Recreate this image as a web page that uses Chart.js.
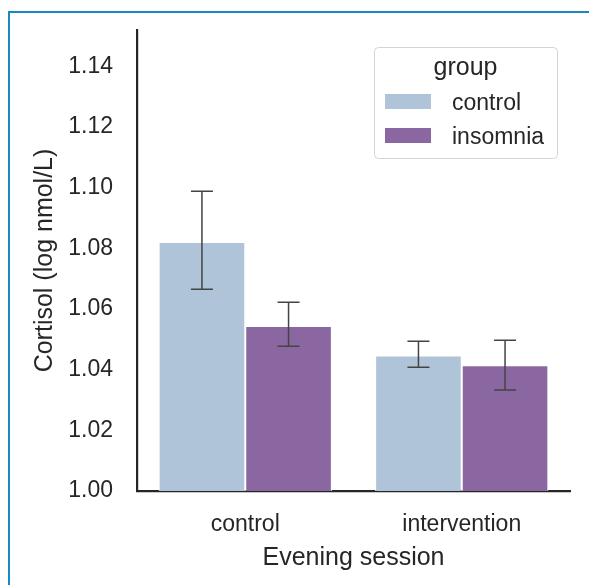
<!DOCTYPE html>
<html>
<head>
<meta charset="utf-8">
<script src="https://cdn.jsdelivr.net/npm/chart.js@4.4.0/dist/chart.umd.min.js"></script>
<style>
    html, body { margin: 0; padding: 0; background: #fff; overflow: hidden; }
    #frame { position: absolute; left: 8px; top: 11px; width: 640px; height: 640px; border: 2px solid #1a86c4; }
    #wrap { position: absolute; left: 0; top: 0; width: 589px; height: 585px; }
</style>
</head>
<body>
<div id="frame"></div>
<div id="wrap"><canvas id="chBar"></canvas></div>
<script>
/* Data */
const sessions = ['control', 'intervention'];
const groups = ['control', 'insomnia'];
const controlMeans = [1.0821, 1.0447];
const insomniaMeans = [1.0544, 1.0415];
// 95% CI bounds
const controlLow = [1.0665, 1.0408];
const controlHigh = [1.0988, 1.0494];
const insomniaLow = [1.0477, 1.0333];
const insomniaHigh = [1.0622, 1.0497];

const fontFamily = "'Liberation Sans', Arial, sans-serif";
const textColor = '#262626';
// colors are: light blue, purple
const groupColors = ['#afc4d9', '#8a67a0'];

/* Plugins */
const errorBarPlugin = {
    id: 'errorBars',
    afterDatasetsDraw(chart) {
        const ctx = chart.ctx;
        const yScale = chart.scales.y;
        chart.data.datasets.forEach(function (ds, i) {
            const meta = chart.getDatasetMeta(i);
            meta.data.forEach(function (bar, j) {
                const top = yScale.getPixelForValue(ds.errHigh[j]);
                const bottom = yScale.getPixelForValue(ds.errLow[j]);
                ctx.save();
                ctx.strokeStyle = '#444444';
                ctx.lineWidth = 1.5;
                ctx.beginPath();
                ctx.moveTo(bar.x, top); ctx.lineTo(bar.x, bottom);
                ctx.moveTo(bar.x - 11, top); ctx.lineTo(bar.x + 11, top);
                ctx.moveTo(bar.x - 11, bottom); ctx.lineTo(bar.x + 11, bottom);
                ctx.stroke();
                ctx.restore();
            });
        });
    }
};

const boxLegendPlugin = {
    id: 'boxLegend',
    afterDraw(chart) {
        const ctx = chart.ctx;
        const x = 374, y = 47, w = 183, h = 111;
        ctx.save();
        ctx.fillStyle = 'rgba(255,255,255,0.8)';
        ctx.strokeStyle = '#d4d4d4';
        ctx.lineWidth = 1;
        ctx.beginPath();
        ctx.roundRect(x + 0.5, y + 0.5, w, h, 4);
        ctx.fill();
        ctx.stroke();

        ctx.fillStyle = textColor;
        ctx.textAlign = 'center';
        ctx.textBaseline = 'alphabetic';
        ctx.font = '25px ' + fontFamily;
        ctx.fillText('group', x + w / 2, y + 28);

        ctx.textAlign = 'left';
        ctx.font = '23px ' + fontFamily;
        chart.data.datasets.forEach(function (ds, i) {
            const cy = 101.5 + i * 34;
            ctx.fillStyle = ds.backgroundColor;
            ctx.fillRect(385, cy - 7.5, 46, 15);
            ctx.fillStyle = textColor;
            ctx.fillText(ds.label, 452, cy + 8);
        });
        ctx.restore();
    }
};

function createBarChart(chartName) {
    const chData = {
        labels: sessions,
        datasets: [
            {
                label: groups[0],
                data: controlMeans,
                errLow: controlLow,
                errHigh: controlHigh,
                backgroundColor: groupColors[0],
                borderColor: '#ffffff',
                borderWidth: 1
            },
            {
                label: groups[1],
                data: insomniaMeans,
                errLow: insomniaLow,
                errHigh: insomniaHigh,
                backgroundColor: groupColors[1],
                borderColor: '#ffffff',
                borderWidth: 1
            }
        ]
    };

    const chOptions = {
        responsive: true,
        maintainAspectRatio: false,
        animation: false,
        layout: { padding: { left: 0, right: 19, top: 30, bottom: 0 } },
        plugins: {
            legend: { display: false },
            tooltip: { enabled: false }
        },
        datasets: {
            bar: { categoryPercentage: 0.8, barPercentage: 1.0 }
        },
        scales: {
            x: {
                grid: { display: false },
                border: { display: true, color: textColor, width: 2.2 },
                ticks: {
                    color: textColor,
                    padding: 12,
                    font: { family: fontFamily, size: 23 }
                },
                title: {
                    display: true,
                    text: 'Evening session',
                    color: textColor,
                    padding: { top: 0, bottom: 12 },
                    font: { family: fontFamily, size: 25 }
                },
                afterFit: function (scale) { scale.height = 94; }
            },
            y: {
                min: 1.0,
                max: 1.152,
                grid: { display: false },
                border: { display: true, color: textColor, width: 2.2 },
                ticks: {
                    stepSize: 0.02,
                    includeBounds: false,
                    color: textColor,
                    padding: 16,
                    font: { family: fontFamily, size: 23 },
                    callback: function (v) { return Number(v).toFixed(2); }
                },
                title: {
                    display: true,
                    text: 'Cortisol (log nmol/L)',
                    color: textColor,
                    padding: { top: 30, bottom: 0 },
                    font: { family: fontFamily, size: 25 }
                },
                afterFit: function (scale) { scale.width = 137; }
            }
        }
    };

    const chBar = document.getElementById(chartName);
    if (chBar) {
        new Chart(chBar, {
            type: 'bar',
            data: chData,
            options: chOptions,
            plugins: [errorBarPlugin, boxLegendPlugin]
        });
    }
}

createBarChart('chBar');
</script>
</body>
</html>
